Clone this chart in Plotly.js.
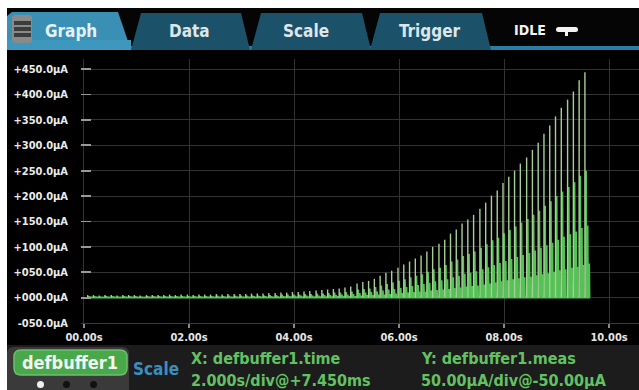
<!DOCTYPE html>
<html>
<head>
<meta charset="utf-8">
<script src="https://cdn.plot.ly/plotly-3.0.1.min.js"></script>
<style>html,body{margin:0;padding:0;background:#fff;}#chart{width:639px;height:390px;}</style>
</head>
<body>
<div id="chart"></div>
<script>
// ---- data ----
// start time (s) of each pulse cycle
const cycleTimes = [0.07,0.18,0.29,0.40,0.52,0.63,0.74,0.85,0.96,1.07,
  1.19,1.30,1.41,1.52,1.63,1.74,1.85,1.97,2.08,2.19,
  2.30,2.41,2.52,2.63,2.74,2.86,2.97,3.08,3.19,3.30,
  3.41,3.52,3.64,3.75,3.86,3.97,4.08,4.19,4.30,4.42,
  4.53,4.64,4.75,4.86,4.97,5.08,5.20,5.31,5.42,5.53,
  5.64,5.75,5.86,5.98,6.09,6.20,6.31,6.42,6.53,6.64,
  6.76,6.87,6.98,7.09,7.20,7.31,7.42,7.54,7.65,7.76,
  7.87,7.98,8.09,8.20,8.31,8.43,8.54,8.65,8.76,8.87,
  8.98,9.09,9.21,9.32,9.43,9.54];
// peak current of each cycle (uA)
const peakCurrent = [5,5,4,5,5,4,5,5,5,4,
  5,5,5,5,6,5,6,6,5,6,
  6,6,7,6,7,7,7,7,8,8,
  8,9,9,10,10,11,11,12,13,14,
  15,16,17,18,20,22,28,31,33,37,
  43,49,53,59,65,71,77,83,91,100,
  106,114,126,134,146,154,163,175,187,201,
  211,226,238,250,264,276,291,305,323,339,
  357,374,390,406,428,444];
// second sample of each cycle (uA)
const secondSample = [3,3,2,3,3,2,3,3,3,2,
  3,3,3,3,3,3,3,3,3,3,
  3,3,4,3,4,4,4,4,4,4,
  4,5,5,6,6,6,6,7,7,8,
  8,9,10,10,11,12,16,17,18,21,
  24,27,30,33,36,40,43,46,51,56,
  59,64,71,75,82,86,91,98,105,113,
  118,127,133,140,148,155,163,171,181,190,
  200,209,218,227,240,250];
// third sample of each cycle (uA)
const thirdSample = [2,2,1,2,2,1,2,2,2,1,
  2,2,2,2,2,2,2,2,2,2,
  2,2,2,2,2,2,2,2,3,3,
  3,3,3,3,3,4,4,4,4,4,
  5,5,5,6,6,7,9,10,11,12,
  14,16,17,19,21,23,25,27,29,32,
  34,36,40,43,47,49,52,56,60,64,
  68,72,76,80,84,88,93,98,103,108,
  114,120,125,130,137,142];
// fourth sample of each cycle (uA)
const fourthSample = [1,1,1,1,1,1,1,1,1,1,
  1,1,1,1,1,1,1,1,1,1,
  1,1,1,1,1,1,1,1,1,1,
  1,1,1,2,2,2,2,2,2,2,
  2,2,3,3,3,3,4,5,5,6,
  6,7,8,9,10,11,12,12,14,15,
  16,17,19,20,22,23,24,26,28,30,
  32,34,36,38,40,41,44,46,48,51,
  54,56,59,61,64,67];

const yTickVals = [-50,0,50,100,150,200,250,300,350,400,450];
const yTickText = ['-050.0µA','+000.0µA','+050.0µA','+100.0µA','+150.0µA','+200.0µA',
  '+250.0µA','+300.0µA','+350.0µA','+400.0µA','+450.0µA'];
const xTickVals = [0,2,4,6,8,10];
const xTickText = ['00.00s','02.00s','04.00s','06.00s','08.00s','10.00s'];

const tabLabels = ['Graph','Data','Scale','Trigger'];

// ---- build traces ----
const tallX = [], tallY = [];
const lowX = [], lowY = [];
const o1 = 0.02, o2 = 0.05, o3 = 0.08, w = 0.006;
for (let i = 0; i < cycleTimes.length; i++) {
  const t = cycleTimes[i];
  tallX.push(t, t, null); tallY.push(0, peakCurrent[i], null);
  lowX.push(t, t+o1, t+o1, t+o1+w, t+o2, t+o2, t+o2+w, t+o3, t+o3, t+o3+w);
  lowY.push(0, 0, secondSample[i], 0, 0, thirdSample[i], 0, 0, fourthSample[i], 0);
}

const FONT = 'DejaVu Sans Condensed, Liberation Sans Narrow, DejaVu Sans, sans-serif';
const L = 81, T = 59, PW = 558, PH = 264;
const X = px => (px - L) / PW;
const Y = py => (T + PH - py) / PH;

function rect(x0, y0, x1, y1, color, extra) {
  return Object.assign({type:'rect', xref:'paper', yref:'paper', x0:X(x0), x1:X(x1), y0:Y(y1), y1:Y(y0),
    fillcolor:color, line:{width:0}, layer:'above'}, extra || {});
}
function poly(pts, color) {
  const d = 'M' + pts.map(p => X(p[0]) + ',' + Y(p[1])).join('L') + 'Z';
  return {type:'path', xref:'paper', yref:'paper', path:d, fillcolor:color, line:{width:0}, layer:'above'};
}
function rrect(x0, y0, x1, y1, r, color, lineColor) {
  const P = (x, y) => X(x) + ',' + Y(y);
  const d = 'M' + P(x0 + r, y0) + 'L' + P(x1 - r, y0) + 'Q' + P(x1, y0) + ' ' + P(x1, y0 + r) +
    'L' + P(x1, y1 - r) + 'Q' + P(x1, y1) + ' ' + P(x1 - r, y1) +
    'L' + P(x0 + r, y1) + 'Q' + P(x0, y1) + ' ' + P(x0, y1 - r) +
    'L' + P(x0, y0 + r) + 'Q' + P(x0, y0) + ' ' + P(x0 + r, y0) + 'Z';
  return {type:'path', xref:'paper', yref:'paper', path:d, fillcolor:color,
    line: lineColor ? {color: lineColor, width: 1.5} : {width:0}, layer:'above'};
}

const shapes = [
  // white photo border
  rect(0, 0, 639, 8, '#ffffff'),
  rect(0, 0, 7, 390, '#ffffff'),
  // tab bar base
  rect(7, 8, 639, 50, '#050505'),
  rect(7, 46, 639, 50, '#2a7ea6'),
  // tabs
  poly([[7,50],[7,16],[12,12],[118,12],[131,50]], '#3a8fb4'),
  poly([[131,50],[141,13],[241,13],[250,50]], '#1b5169'),
  poly([[251,50],[261,13],[362,13],[371,50]], '#1b5169'),
  poly([[370,50],[380,13],[482,13],[491,50]], '#1b5169'),
  rect(7, 40, 131, 50, '#3e98bd'),
  // hamburger icon
  rrect(12, 15, 32, 43, 3, '#8a8a8a'),
  rect(14, 21, 31, 25, '#3c3c3c'),
  rect(14, 27, 31, 31, '#3c3c3c'),
  rect(14, 33, 31, 37, '#3c3c3c'),
  // IDLE icon
  rrect(556, 27, 578, 32, 2.5, '#f2f2f2'),
  rect(565, 32, 568, 36, '#f2f2f2'),
  // bottom status panel
  rect(7, 345, 639, 390, '#1c1c1c'),
  rrect(7, 347, 129, 398, 7, '#3a3a3a'),
  rrect(14, 350, 127, 375, 7, '#49a849', '#6cc06c'),
  {type:'circle', xref:'paper', yref:'paper', x0:X(37), x1:X(44), y0:Y(388), y1:Y(381), fillcolor:'#f0f0f0', line:{width:0}, layer:'above'},
  {type:'circle', xref:'paper', yref:'paper', x0:X(63), x1:X(70), y0:Y(388), y1:Y(381), fillcolor:'#111111', line:{width:0}, layer:'above'},
  {type:'circle', xref:'paper', yref:'paper', x0:X(90), x1:X(97), y0:Y(388), y1:Y(381), fillcolor:'#111111', line:{width:0}, layer:'above'}
];

const tabCenters = [71, 189, 306, 430];
const annotations = tabLabels.map((s, i) => ({
  text: s, xref:'paper', yref:'paper', x: X(tabCenters[i]), y: Y(31),
  xanchor:'center', yanchor:'middle', showarrow:false,
  font:{family:FONT, size:17, weight:'bold', color: i === 0 ? '#e4f2f8' : '#dfe6ea'}
}));
annotations.push(
  {text:'IDLE', xref:'paper', yref:'paper', x:X(512), y:Y(30), xanchor:'left', yanchor:'middle', showarrow:false,
   font:{family:FONT, size:14, weight:'bold', color:'#f4f4f4'}},
  {text:'defbuffer1', xref:'paper', yref:'paper', x:X(70), y:Y(362), xanchor:'center', yanchor:'middle', showarrow:false,
   font:{family:FONT, size:18, weight:'bold', color:'#f4f4f4'}},
  {text:'Scale', xref:'paper', yref:'paper', x:X(131), y:Y(369), xanchor:'left', yanchor:'middle', showarrow:false,
   font:{family:FONT, size:17, weight:'bold', color:'#3b8ec0'}},
  {text:'X: defbuffer1.time', xref:'paper', yref:'paper', x:X(189), y:Y(358), xanchor:'left', yanchor:'middle', showarrow:false,
   font:{family:FONT, size:16, weight:'bold', color:'#62c262'}},
  {text:'2.000s/div@+7.450ms', xref:'paper', yref:'paper', x:X(189), y:Y(380), xanchor:'left', yanchor:'middle', showarrow:false,
   font:{family:FONT, size:16, weight:'bold', color:'#62c262'}},
  {text:'Y: defbuffer1.meas', xref:'paper', yref:'paper', x:X(419), y:Y(358), xanchor:'left', yanchor:'middle', showarrow:false,
   font:{family:FONT, size:16, weight:'bold', color:'#62c262'}},
  {text:'50.00µA/div@-50.00µA', xref:'paper', yref:'paper', x:X(419), y:Y(380), xanchor:'left', yanchor:'middle', showarrow:false,
   font:{family:FONT, size:16, weight:'bold', color:'#62c262'}}
);

const data = [
  {type:'scatter', mode:'lines', x: lowX, y: lowY, line:{color:'#55c255', width:2}, hoverinfo:'skip', showlegend:false},
  {type:'scatter', mode:'lines', x: tallX, y: tallY, line:{color:'#a6cf98', width:1.4}, hoverinfo:'skip', showlegend:false}
];

const layout = {
  width: 639, height: 390,
  margin: {l: L, r: 0, t: T, b: 390 - T - PH, pad: 0},
  paper_bgcolor: '#000000', plot_bgcolor: '#000000',
  showlegend: false,
  xaxis: {
    range: [-0.057, 10.57], tickvals: xTickVals, ticktext: xTickText,
    showgrid: true, gridcolor: '#323232', gridwidth: 1, zeroline: false,
    showline: true, linecolor: '#3a3a3a', linewidth: 1,
    ticks: 'outside', ticklen: 4, tickcolor: '#8a8a8a', tickwidth: 1.5,
    tickfont: {family: FONT, size: 11, weight: 'bold', color: '#e6e6e6'}
  },
  yaxis: {
    range: [-50, 470], tickvals: yTickVals, ticktext: yTickText,
    showgrid: true, gridcolor: '#323232', gridwidth: 1, zeroline: false,
    showline: false,
    ticks: 'inside', ticklen: 10, tickcolor: '#9a9a9a', tickwidth: 1.8,
    ticklabelstandoff: 12,
    tickfont: {family: FONT, size: 11, weight: 'bold', color: '#ececec'}
  },
  shapes: shapes,
  annotations: annotations
};

Plotly.newPlot('chart', data, layout, {staticPlot: true, displayModeBar: false});
</script>
</body>
</html>
